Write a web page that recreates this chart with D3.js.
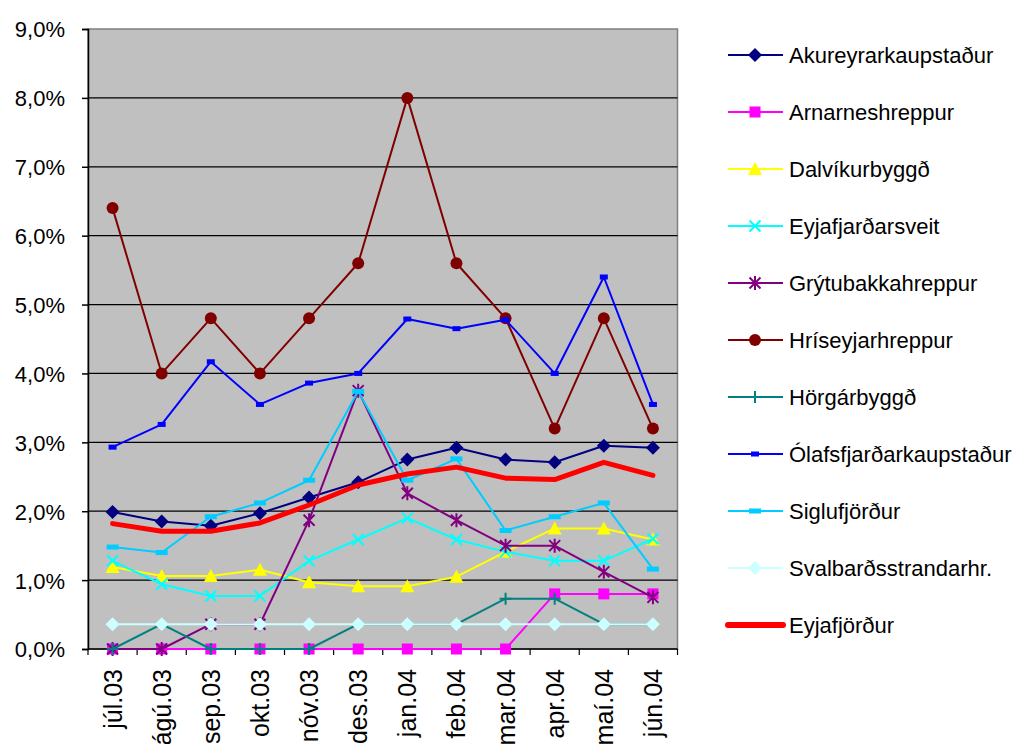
<!DOCTYPE html>
<html><head><meta charset="utf-8">
<script src="https://cdn.jsdelivr.net/npm/d3@7"></script>
<style>body{margin:0;background:#fff}svg{display:block}text{font-family:"Liberation Sans",Arial,sans-serif;fill:#000}</style>
</head><body><svg id="c" width="1014" height="744"></svg>
<script>
const months = ["júl.03","ágú.03","sep.03","okt.03","nóv.03","des.03","jan.04","feb.04","mar.04","apr.04","maí.04","jún.04"];
const yTicks = [0,1,2,3,4,5,6,7,8,9];
const seriesNames = ["Akureyrarkaupstaður","Arnarneshreppur","Dalvíkurbyggð","Eyjafjarðarsveit","Grýtubakkahreppur","Hríseyjarhreppur","Hörgárbyggð","Ólafsfjarðarkaupstaður","Siglufjörður","Svalbarðsstrandarhr.","Eyjafjörður"];
const akureyri = [1.99,1.85,1.79,1.97,2.20,2.42,2.75,2.92,2.75,2.71,2.95,2.92];
const arnarnes = [0,0,0,0,0,0,0,0,0,0.80,0.80,0.80];
const dalvik = [1.19,1.06,1.06,1.15,0.97,0.91,0.91,1.05,1.41,1.75,1.75,1.59];
const eyjafjardarsveit = [1.28,0.94,0.77,0.77,1.28,1.59,1.90,1.59,1.41,1.28,1.28,1.60];
const grytubakki = [0,0,0.36,0.36,1.87,3.75,2.26,1.87,1.50,1.50,1.12,0.75];
const hrisey = [6.4,4.0,4.8,4.0,4.8,5.6,8.0,5.6,4.8,3.2,4.8,3.2];
const horgar = [0,0.36,0,0,0,0.36,0.36,0.36,0.73,0.73,0.36,0.36];
const olafsfjordur = [2.93,3.26,4.17,3.55,3.86,4.00,4.79,4.65,4.78,4.00,5.40,3.55];
const siglufjordur = [1.48,1.40,1.92,2.12,2.45,3.74,2.45,2.76,1.72,1.92,2.12,1.16];
const svalbard = [0.36,0.36,0.36,0.36,0.36,0.36,0.36,0.36,0.36,0.36,0.36,0.36];
const eyjafjordur = [1.82,1.71,1.71,1.83,2.09,2.38,2.54,2.64,2.48,2.46,2.71,2.52];

const seriesValues = [akureyri,arnarnes,dalvik,eyjafjardarsveit,grytubakki,hrisey,horgar,olafsfjordur,siglufjordur,svalbard,eyjafjordur];
const colors = ["#000080","#FF00FF","#FFFF00","#00FFFF","#800080","#800000","#008080","#0000FF","#00CCFF","#CCFFFF","#FF0000"];
const markers = ["diamond","square","triangle","x","star","circle","plus","dashS","dashL","diamond","none"];
const widths = [2,2,2,2,2,2,2,2,2,2,5];

const svg = d3.select("#c");
const L=88, R=677.5, T=29, B=649;
const x = d3.scaleBand().domain(months).range([L,R]);
const y = d3.scaleLinear().domain([0,9]).range([B,T]);
const cx = d => x(d)+x.bandwidth()/2;

svg.append("rect").attr("x",L).attr("y",T).attr("width",R-L).attr("height",B-T).attr("fill","#C0C0C0").attr("stroke","#808080").attr("stroke-width",1.5);
svg.append("g").selectAll("line").data(yTicks.filter(v=>v>0&&v<9)).join("line")
  .attr("x1",L).attr("x2",R).attr("y1",d=>y(d)).attr("y2",d=>y(d)).attr("stroke","#000").attr("stroke-width",1.2);

const yAxis = svg.append("g").attr("transform",`translate(${L},0)`)
  .call(d3.axisLeft(y).tickValues(yTicks).tickSize(6).tickPadding(17).tickFormat(d=>d3.format(".1f")(d).replace(".",",")+"%"));
yAxis.select(".domain").attr("stroke","#000").attr("stroke-width",1.5);
yAxis.selectAll("line").attr("stroke","#000").attr("stroke-width",1.5);
yAxis.selectAll("text").attr("font-size",22).attr("dy","0.36em").style("font-family","Liberation Sans, Arial");

const xAxis = svg.append("g").attr("transform",`translate(0,${B})`);
xAxis.append("line").attr("x1",L).attr("x2",R).attr("stroke","#000").attr("stroke-width",1.5);
const bounds = months.map(m=>x(m)).concat([R]);
xAxis.selectAll("line.t").data(bounds).join("line").attr("class","t")
  .attr("x1",d=>d).attr("x2",d=>d).attr("y1",0).attr("y2",6).attr("stroke","#000").attr("stroke-width",1.2);
xAxis.selectAll("text").data(months).join("text")
  .attr("transform",d=>`translate(${cx(d)},${669-B}) rotate(-90)`)
  .attr("text-anchor","end").attr("dy","0.36em").attr("font-size",25).text(d=>d);

function drawMarker(g, type, color, px, py){
  if(type==="none") return;
  if(type==="diamond"){ const s=7; g.append("path").attr("d",`M${px},${py-s}L${px+s},${py}L${px},${py+s}L${px-s},${py}Z`).attr("fill",color); }
  else if(type==="square"){ g.append("rect").attr("x",px-5.5).attr("y",py-5.5).attr("width",11).attr("height",11).attr("fill",color); }
  else if(type==="triangle"){ g.append("path").attr("d",`M${px},${py-7}L${px+7},${py+6}L${px-7},${py+6}Z`).attr("fill",color); }
  else if(type==="x"){ const s=5.5; g.append("path").attr("d",`M${px-s},${py-s}L${px+s},${py+s}M${px-s},${py+s}L${px+s},${py-s}`).attr("stroke",color).attr("stroke-width",2); }
  else if(type==="star"){ const s=5.5; g.append("path").attr("d",`M${px-s},${py-s}L${px+s},${py+s}M${px-s},${py+s}L${px+s},${py-s}M${px},${py-7}L${px},${py+7}`).attr("stroke",color).attr("stroke-width",2); }
  else if(type==="circle"){ g.append("circle").attr("cx",px).attr("cy",py).attr("r",6).attr("fill",color); }
  else if(type==="plus"){ const s=6; g.append("path").attr("d",`M${px-s},${py}L${px+s},${py}M${px},${py-s}L${px},${py+s}`).attr("stroke",color).attr("stroke-width",2); }
  else if(type==="dashS"){ g.append("rect").attr("x",px-4).attr("y",py-2.5).attr("width",8).attr("height",5).attr("fill",color); }
  else if(type==="dashL"){ g.append("rect").attr("x",px-6).attr("y",py-2.5).attr("width",12).attr("height",5).attr("fill",color); }
}

const line = d3.line().x((d,i)=>cx(months[i])).y(d=>y(d));
const plot = svg.append("g");
seriesValues.forEach((vals,k)=>{
  const g = plot.append("g");
  g.append("path").attr("d",line(vals)).attr("fill","none").attr("stroke",colors[k]).attr("stroke-width",widths[k]).attr("stroke-linejoin","round").attr("stroke-linecap","round");
  vals.forEach((v,i)=>drawMarker(g,markers[k],colors[k],cx(months[i]),y(v)));
});

const leg = svg.append("g");
const ly = d3.scalePoint().domain(seriesNames).range([55,625]);
seriesNames.forEach((n,k)=>{
  const yy = ly(n);
  const g = leg.append("g");
  g.append("line").attr("x1",728).attr("x2",783).attr("y1",yy).attr("y2",yy).attr("stroke",colors[k]).attr("stroke-width",k===10?6:2).attr("stroke-linecap",k===10?"round":"butt");
  drawMarker(g,markers[k],colors[k],755,yy);
  g.append("text").attr("x",789).attr("y",yy).attr("dy","0.36em").attr("font-size",22).text(n);
});
</script></body></html>
